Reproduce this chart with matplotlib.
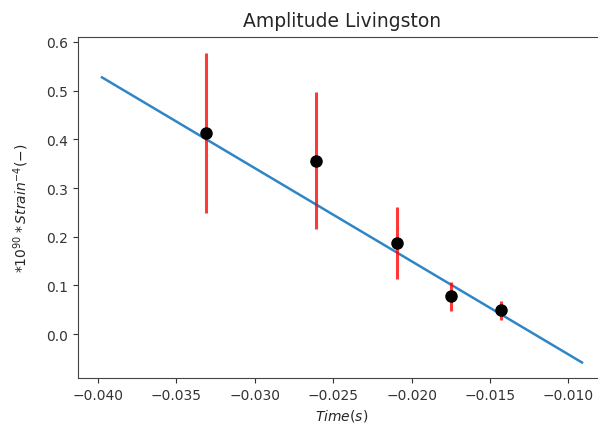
import matplotlib
matplotlib.use("Agg")
import matplotlib.pyplot as plt

# measured amplitudes (Livingston)
t = [-0.0331, -0.0261, -0.0209, -0.01747, -0.01429]
amp = [0.413, 0.356, 0.188, 0.078, 0.049]
err = [0.165, 0.141, 0.074, 0.030, 0.020]

# linear fit endpoints
fit_t = [-0.03975, -0.00913]
fit_amp = [0.527, -0.058]

plt.rcParams["text.color"] = "#262626"
plt.rcParams["axes.labelcolor"] = "#262626"
plt.rcParams["xtick.color"] = "#333333"
plt.rcParams["ytick.color"] = "#333333"
plt.rcParams["axes.edgecolor"] = "#444444"

fig = plt.figure(figsize=(5.98, 4.31), dpi=100)
ax = fig.add_axes([78 / 598, 52 / 431, 528 / 598, 341 / 431])

ax.plot(fit_t, fit_amp, color="#2f86c6", lw=1.8)
ax.errorbar(t, amp, yerr=err, fmt="o", color="black", ms=8,
            ecolor="red", elinewidth=2.2, capsize=0)
# lighter error bars like the original
for c in ax.collections:
    c.set_alpha(0.78)

ax.set_title("Amplitude Livingston", fontsize=13.5, pad=8)
ax.set_xlabel(r"$Time(s)$")
ax.set_ylabel(r"$*10^{90}*Strain^{-4}(-)$", labelpad=11)

fig.savefig("out.png", dpi=100)
